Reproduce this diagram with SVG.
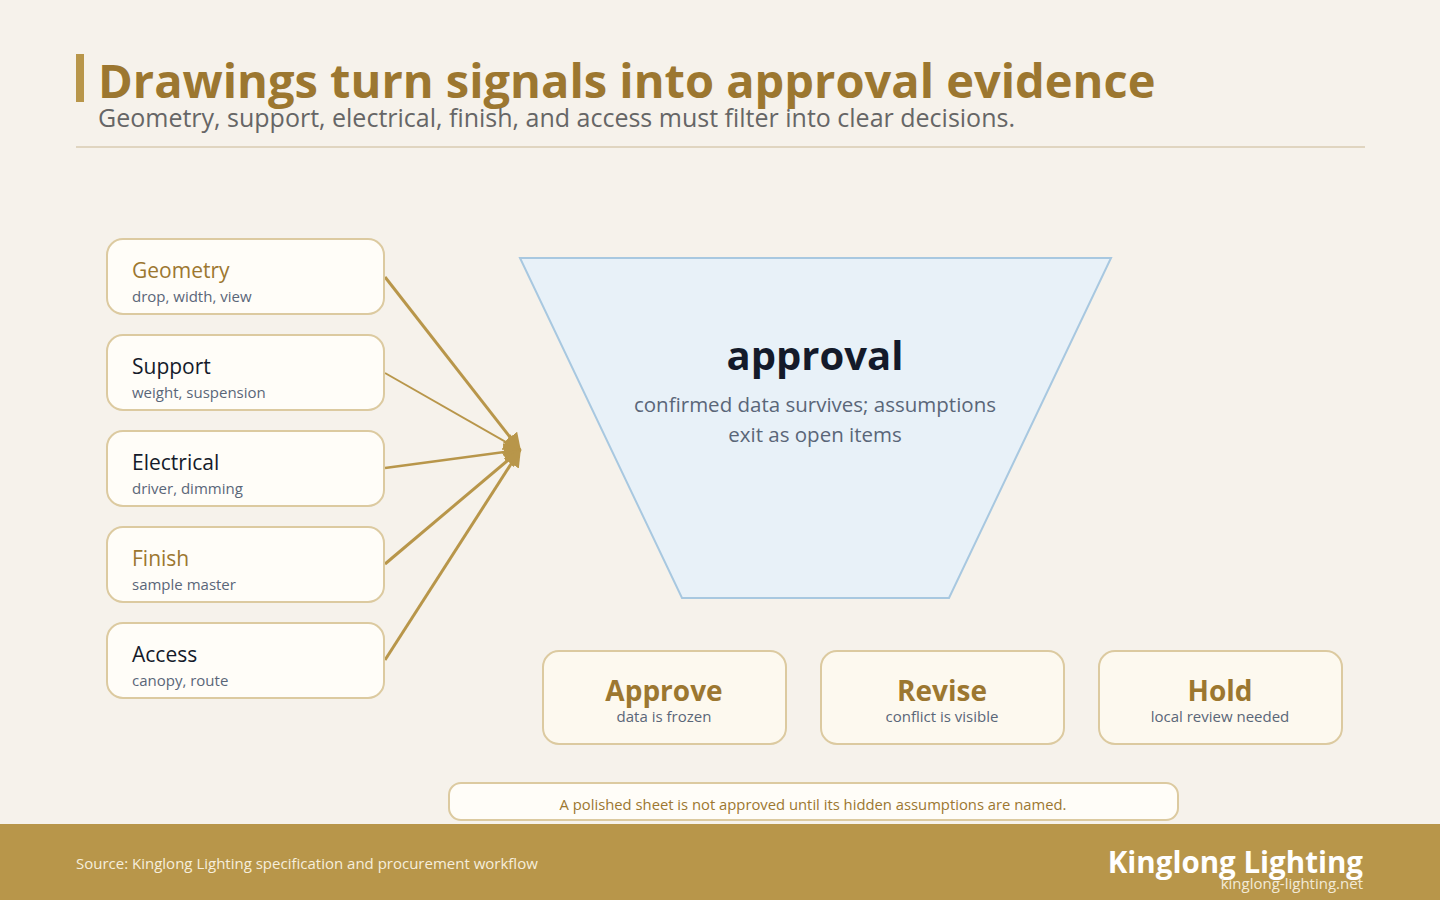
<svg xmlns="http://www.w3.org/2000/svg" width="1440" height="900" viewBox="0 0 1440 900">
<defs>
<style>
text{font-family:"Open Sans","Noto Sans","Liberation Sans",sans-serif}
.box{fill:#fffdf8;stroke:#dccaa0;stroke-width:2}
.obox{fill:#fdf9ef;stroke:#dccaa0;stroke-width:2}
.nt{font-size:21px}
.gold{fill:#9c7730}
.dark{fill:#141a2a}
.sub{font-size:15px;fill:#5a6678}
.conn{stroke:#b8964a;fill:none}
.ot{font-size:28px;font-weight:700;fill:#9c7730;text-anchor:middle}
.os{font-size:15px;fill:#5a6678;text-anchor:middle}
</style>
<marker id="ah" viewBox="0 0 10 10" refX="9" refY="5" markerWidth="18" markerHeight="18" markerUnits="userSpaceOnUse" orient="auto">
<path d="M0,0 L10,5 L0,10 z" fill="#b8964a"/>
</marker>
</defs>
<rect width="1440" height="900" fill="#f6f2eb"/>
<g id="header">
<rect x="76" y="54" width="8" height="48" fill="#b8964a"/>
<text x="98" y="98" font-size="47" font-weight="700" fill="#9c7730">Drawings turn signals into approval evidence</text>
<text x="98" y="127" font-size="25" fill="#666666">Geometry, support, electrical, finish, and access must filter into clear decisions.</text>
<line x1="76" y1="147" x2="1365" y2="147" stroke="#e0d5c0" stroke-width="2"/>
</g>
<g id="connectors">
<line class="conn" x1="385" y1="277" x2="520" y2="450" stroke-width="3" marker-end="url(#ah)"/>
<line class="conn" x1="385" y1="373" x2="520" y2="450" stroke-width="2" marker-end="url(#ah)"/>
<line class="conn" x1="385" y1="468" x2="520" y2="450" stroke-width="2.5" marker-end="url(#ah)"/>
<line class="conn" x1="385" y1="564" x2="520" y2="450" stroke-width="3" marker-end="url(#ah)"/>
<line class="conn" x1="385" y1="660" x2="520" y2="450" stroke-width="3" marker-end="url(#ah)"/>
</g>
<g id="geometry">
<rect class="box" x="107" y="239" width="277" height="75" rx="16"/>
<text class="nt gold" x="132" y="278">Geometry</text>
<text class="sub" x="132" y="302">drop, width, view</text>
</g>
<g id="support">
<rect class="box" x="107" y="335" width="277" height="75" rx="16"/>
<text class="nt dark" x="132" y="374">Support</text>
<text class="sub" x="132" y="398">weight, suspension</text>
</g>
<g id="electrical">
<rect class="box" x="107" y="431" width="277" height="75" rx="16"/>
<text class="nt dark" x="132" y="470">Electrical</text>
<text class="sub" x="132" y="494">driver, dimming</text>
</g>
<g id="finish">
<rect class="box" x="107" y="527" width="277" height="75" rx="16"/>
<text class="nt gold" x="132" y="566">Finish</text>
<text class="sub" x="132" y="590">sample master</text>
</g>
<g id="access">
<rect class="box" x="107" y="623" width="277" height="75" rx="16"/>
<text class="nt dark" x="132" y="662">Access</text>
<text class="sub" x="132" y="686">canopy, route</text>
</g>
<g id="funnel">
<polygon points="520,258 1111,258 949,598 682,598" fill="#e8f1f8" stroke="#a8c8e0" stroke-width="2"/>
<text x="815" y="370" font-size="40" font-weight="700" fill="#141a2a" text-anchor="middle">approval</text>
<text x="815" y="412" font-size="20.5" fill="#5a6678" text-anchor="middle">confirmed data survives; assumptions</text>
<text x="815" y="442" font-size="20.5" fill="#5a6678" text-anchor="middle">exit as open items</text>
</g>
<g id="approve">
<rect class="obox" x="543" y="651" width="243" height="93" rx="16"/>
<text class="ot" x="664" y="701">Approve</text>
<text class="os" x="664" y="722">data is frozen</text>
</g>
<g id="revise">
<rect class="obox" x="821" y="651" width="243" height="93" rx="16"/>
<text class="ot" x="942" y="701">Revise</text>
<text class="os" x="942" y="722">conflict is visible</text>
</g>
<g id="hold">
<rect class="obox" x="1099" y="651" width="243" height="93" rx="16"/>
<text class="ot" x="1220" y="701">Hold</text>
<text class="os" x="1220" y="722">local review needed</text>
</g>
<g id="note">
<rect x="449" y="783" width="729" height="37" rx="12" fill="#fffdf8" stroke="#dccaa0" stroke-width="2"/>
<text x="813" y="810" font-size="14.8" fill="#9c7730" text-anchor="middle">A polished sheet is not approved until its hidden assumptions are named.</text>
</g>
<g id="footer">
<rect x="0" y="824" width="1440" height="76" fill="#b8964a"/>
<text x="76" y="869" font-size="15" fill="#f6eedc">Source: Kinglong Lighting specification and procurement workflow</text>
<text x="1363" y="873" font-size="29.5" font-weight="700" fill="#ffffff" text-anchor="end">Kinglong Lighting</text>
<text x="1363" y="889" font-size="15" fill="#f3ead6" text-anchor="end">kinglong-lighting.net</text>
</g>
</svg>
